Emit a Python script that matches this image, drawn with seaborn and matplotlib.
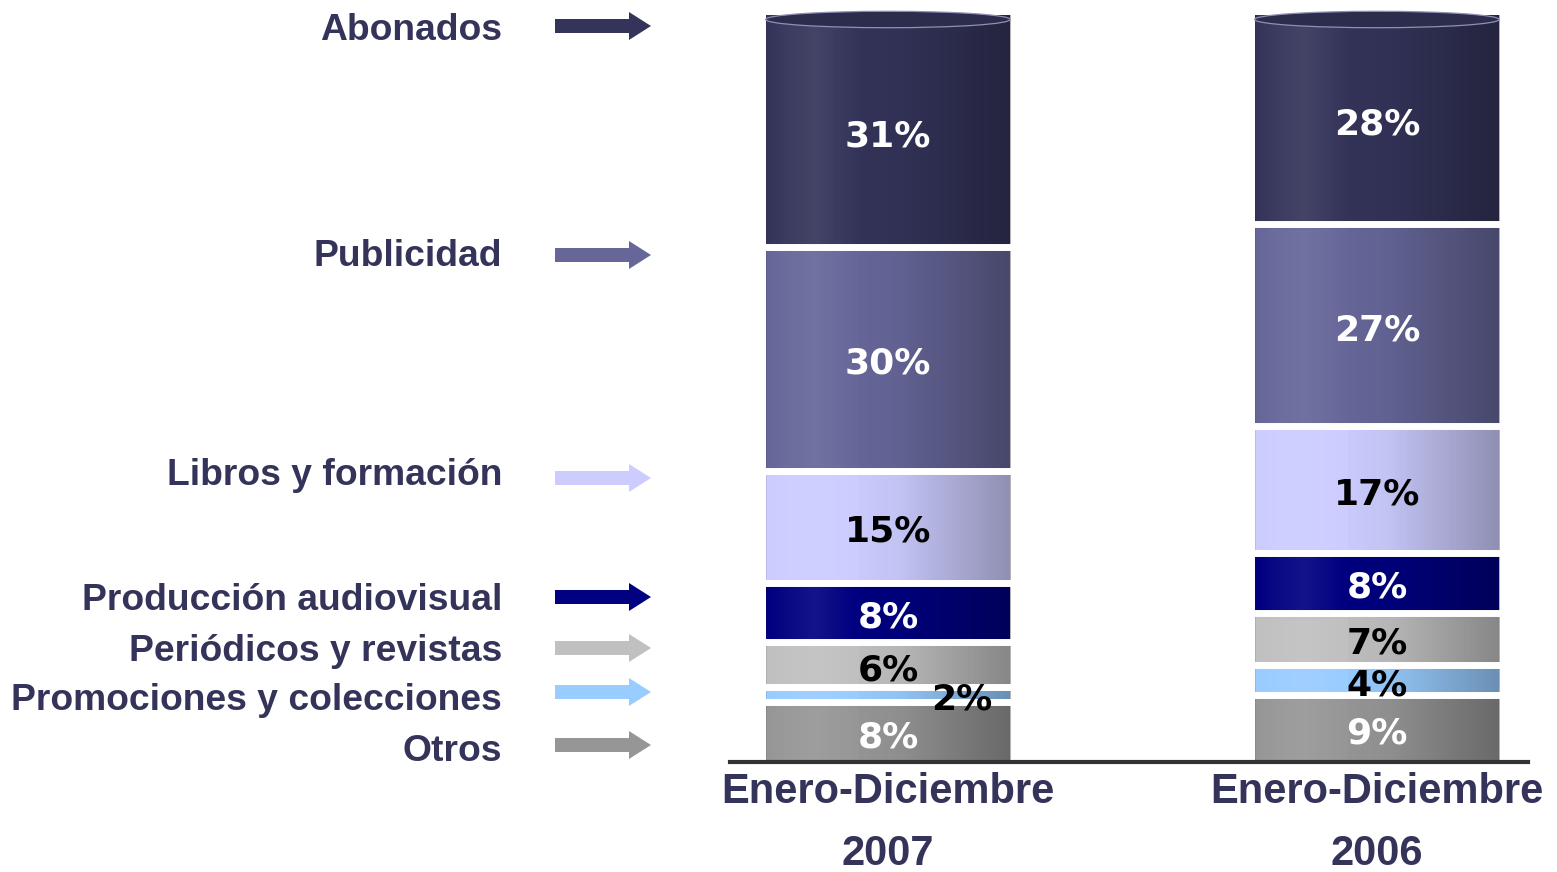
import numpy as np
import pandas as pd
import matplotlib
matplotlib.use("Agg")
import matplotlib.pyplot as plt
import seaborn as sns
from matplotlib.patches import FancyArrow, Ellipse, Rectangle

# ---------------- data ----------------
categories = ["Abonados", "Publicidad", "Libros y formación", "Producción audiovisual",
              "Periódicos y revistas", "Promociones y colecciones", "Otros"]
periods = ["Enero-Diciembre\n2007", "Enero-Diciembre\n2006"]
values_2007 = [31, 30, 15, 8, 6, 2, 8]
values_2006 = [28, 27, 17, 8, 7, 4, 9]
colors = ["#34345A", "#666699", "#CCCCFF", "#000080", "#C0C0C0", "#99CCFF", "#969696"]
text_colors = ["white", "white", "black", "white", "black", "black", "white"]

# ---------------- style ----------------
sns.set_theme(style="white")
plt.rcParams["font.family"] = ["Liberation Sans", "DejaVu Sans"]
LABEL_COLOR = "#34345A"

W, H = 1557, 872
fig = plt.figure(figsize=(W / 100, H / 100), dpi=100)
fig.patch.set_facecolor("white")

ax_bottom_px, ax_top_px = 762, 5
ax = fig.add_axes([730 / W, (H - ax_bottom_px) / H, (1528 - 730) / W,
                   (ax_bottom_px - ax_top_px) / H])

df = pd.DataFrame({
    "category": categories * 2,
    "period": [periods[0]] * len(categories) + [periods[1]] * len(categories),
    "value": values_2007 + values_2006,
})
stack_order = categories[::-1]  # bottom -> top
df["order"] = df["category"].map({c: i for i, c in enumerate(stack_order)})
df = df.sort_values(["period", "order"])
df["top"] = df.groupby("period")["value"].cumsum()
df["bottom"] = df["top"] - df["value"]

BAR_W = 0.5
# draw cumulative bars from the tallest (top segment) down to the bottom one
for i, cat in enumerate(categories):
    sub = df[df["category"] == cat]
    sns.barplot(data=sub, x="period", y="top", order=periods, color=colors[i],
                saturation=1, width=BAR_W, linewidth=0, ax=ax, zorder=2 + i * 0.01)

# cylinder shading overlay per column
t = np.linspace(0, 1, 256)
white_a = np.interp(t, [0, 0.08, 0.2, 0.38, 1], [0.0, 0.04, 0.08, 0.0, 0.0])
black_a = np.interp(t, [0, 0.05, 0.3, 0.55, 1], [0.1, 0.0, 0.0, 0.05, 0.3])
rgba = np.zeros((1, 256, 4))
use_white = white_a > 0
rgba[0, use_white, :3] = 1.0
rgba[0, :, 3] = np.where(use_white, white_a, black_a)

ymax = 100 * (ax_bottom_px - ax_top_px) / (ax_bottom_px - 15)
for j, per in enumerate(periods):
    sub = df[df["period"] == per]
    total = sub["top"].max()
    x0 = j - BAR_W / 2
    clip = Rectangle((x0, 0), BAR_W, total, transform=ax.transData)
    im = ax.imshow(rgba, extent=[x0, x0 + BAR_W, 0, total], aspect="auto",
                   zorder=3, interpolation="bilinear")
    im.set_clip_path(clip)
    # white gaps between segments
    gaps = sub["bottom"][sub["bottom"] > 0].values
    ax.hlines(gaps, x0 - 0.01, x0 + BAR_W + 0.01, color="white", lw=5, zorder=4)
    # cylinder top
    ax.add_patch(Ellipse((j, total - 0.6), BAR_W, 2.2, facecolor="#2C2C4C",
                         edgecolor="#9090B4", lw=0.9, zorder=5))
    # percentage labels
    for _, r in sub.iterrows():
        ci = categories.index(r["category"])
        xoff = 0.15 if r["value"] <= 2 else 0.0
        ax.text(j + xoff, r["bottom"] + r["value"] / 2 - 0.7, f"{r['value']}%",
                ha="center", va="center", fontsize=26, fontweight="bold",
                family="DejaVu Sans", color=text_colors[ci], zorder=6)

ax.set_xlim(-0.323, 1.309)
ax.set_ylim(0, ymax)
ax.set_xlabel("")
ax.set_ylabel("")
ax.set_yticks([])
for s in ["top", "left", "right"]:
    ax.spines[s].set_visible(False)
ax.spines["bottom"].set_color("#333333")
ax.spines["bottom"].set_linewidth(3)
ax.spines["bottom"].set_zorder(7)
ax.tick_params(axis="x", length=0, pad=7)
ax.set_xticks(range(len(periods)))
ax.set_xticklabels(periods, fontsize=30, fontweight="bold", color=LABEL_COLOR,
                   linespacing=1.72)
ax.set_facecolor("none")

# ---------------- left labels with arrows ----------------
ov = fig.add_axes([0, 0, 1, 1], zorder=-1)
ov.set_xlim(0, W)
ov.set_ylim(H, 0)
ov.axis("off")

label_y = [30, 256, 475, 600, 651, 700, 751]
arrow_y = [26, 255, 478, 597, 648, 692, 745]
for i, cat in enumerate(categories):
    ov.text(502, label_y[i], cat, ha="right", va="center", fontsize=26.8,
            fontweight="bold", color=LABEL_COLOR)
    ov.add_patch(FancyArrow(555, arrow_y[i], 96, 0, width=14, head_width=28,
                            head_length=22, length_includes_head=True,
                            color=colors[i], lw=0))

fig.savefig("out.png", dpi=100, facecolor="white")
